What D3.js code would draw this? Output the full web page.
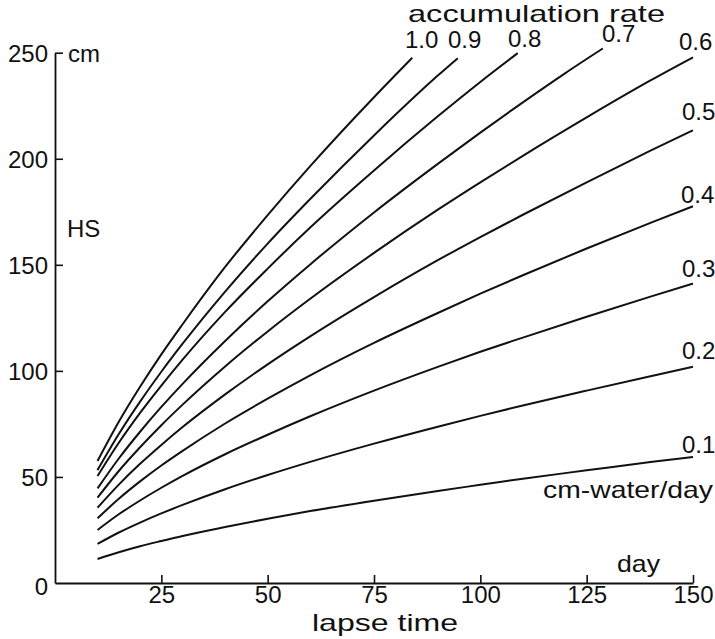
<!DOCTYPE html>
<html><head><meta charset="utf-8">
<script src="https://cdn.jsdelivr.net/npm/d3@7"></script>
<style>body{margin:0;background:#fff}</style>
</head><body>
<svg id="c" width="715" height="639"></svg>
<script>
// Data: lapse time (day) vs HS (cm) per accumulation rate (cm-water/day)
const rates = ["1.0","0.9","0.8","0.7","0.6","0.5","0.4","0.3","0.2","0.1"];
const days  = [10,15,20,25,30,40,50,60,75,90,100,110,125,140,150];
const hs10 = [57.5,76,92.5,107.8,122,149,173.4,196.5,229,247.6];
const hs10Days = [10,15,20,25,30,40,50,60,75,84];
const hs09 = [53.2,70.2,85.5,99.6,112.8,137.4,160,181,211,239.2,247.4];
const hs09Days = [10,15,20,25,30,40,50,60,75,90,94.7];
const hs08 = [50.4,66.1,80.2,93.1,105.3,127.8,148.2,167.6,194.5,220,236.2,249.8];
const hs08Days = [10,15,20,25,30,40,50,60,75,90,100,108.8];
const hs07 = [44.6,58.7,71.3,83,93.9,114.1,132.8,150.2,174.7,197.6,212.3,226.6,240.4,252];
const hs07Days = [10,15,20,25,30,40,50,60,75,90,100,110,120,128.8];
const hs06 = [40.2,52.8,64,74.4,84.1,102.1,118.6,134,155.6,176,188.9,201.4,219.5,236.9,247.8];
const hs05 = [35.5,46.4,56.2,65.1,73.5,88.9,103.1,116.3,134.8,152.2,163.1,173.6,188.9,203.8,213.4];
const hs04 = [30.5,39.7,47.9,55.4,62.3,75.2,86.9,97.9,113.2,127.3,136.4,145.1,157.7,169.8,177.6];
const hs03 = [25,32.4,38.9,44.9,50.5,60.7,69.9,78.6,90.7,101.9,109,115.7,125.5,135,141.2];
const hs02 = [18.4,23.8,28.5,32.8,36.8,44.2,50.9,57.1,65.7,73.7,78.8,83.7,90.7,97.5,101.9];
const hs01 = [11.3,14.5,17.3,19.8,22.2,26.4,30.3,33.9,38.8,43.4,46.3,49.2,53.1,57,59.4];
const xTicks = [25,50,75,100,125,150];
const yTicks = [0,50,100,150,200,250];

const series = [
  {rate:"1.0", x:hs10Days, y:hs10},
  {rate:"0.9", x:hs09Days, y:hs09},
  {rate:"0.8", x:hs08Days, y:hs08},
  {rate:"0.7", x:hs07Days, y:hs07},
  {rate:"0.6", x:days, y:hs06},
  {rate:"0.5", x:days, y:hs05},
  {rate:"0.4", x:days, y:hs04},
  {rate:"0.3", x:days, y:hs03},
  {rate:"0.2", x:days, y:hs02},
  {rate:"0.1", x:days, y:hs01}
];

const svg = d3.select("#c");
const x = d3.scaleLinear().domain([0,150]).range([55,693]);
const y = d3.scaleLinear().domain([0,250]).range([583,52.7]);
const font = "Liberation Sans";
const fs = 24;
const ink = "#111";

// axes
const xAxis = svg.append("g").attr("transform",`translate(0,${y(0)})`)
  .call(d3.axisBottom(x).tickValues(xTicks).tickSizeInner(-8).tickSizeOuter(0).tickFormat(d3.format("d")));
const yAxis = svg.append("g").attr("transform",`translate(${x(0)},0)`)
  .call(d3.axisLeft(y).tickValues(yTicks.filter(d=>d>0)).tickSizeInner(-8).tickSizeOuter(0).tickFormat(""));
[xAxis,yAxis].forEach(g=>{
  g.select(".domain").attr("stroke",ink).attr("stroke-width",1.8);
  g.selectAll(".tick line").attr("stroke",ink).attr("stroke-width",1.6);
});
xAxis.selectAll(".tick text").attr("font-family",font).attr("font-size",fs)
  .attr("fill",ink).attr("y",3).attr("dy","0.71em");

// y tick labels
svg.append("g").selectAll("text").data(yTicks).join("text")
  .attr("x",48).attr("y",d=>y(d)+(d===0?12:9))
  .attr("text-anchor","end").attr("font-family",font).attr("font-size",fs).attr("fill",ink)
  .text(d=>d);

// curves
const line = d3.line().curve(d3.curveMonotoneX);
svg.append("g").selectAll("path").data(series).join("path")
  .attr("d",s=>line(s.x.map((d,i)=>[x(d),y(s.y[i])])))
  .attr("fill","none").attr("stroke",ink).attr("stroke-width",2);

// curve labels
const labelPos = {
  "1.0":[405,48], "0.9":[448,48], "0.8":[508,47], "0.7":[602,42], "0.6":[679,50],
  "0.5":[682,120], "0.4":[681,203], "0.3":[682,277], "0.2":[682,359], "0.1":[682,453]
};
svg.append("g").selectAll("text").data(rates).join("text")
  .attr("x",d=>labelPos[d][0]).attr("y",d=>labelPos[d][1])
  .attr("font-family",font).attr("font-size",fs).attr("fill",ink)
  .text(d=>d);

function txt(t,xp,yp,len){
  const e = svg.append("text").attr("x",xp).attr("y",yp)
    .attr("font-family",font).attr("font-size",fs).attr("fill",ink).text(t);
  if(len) e.attr("textLength",len).attr("lengthAdjust","spacingAndGlyphs");
  return e;
}
txt("accumulation rate",408,22,257);
txt("cm",68,62);
txt("HS",67,237);
txt("cm-water/day",543,498,170);
txt("day",617,572,43);
txt("lapse time",312,631,146);
</script>
</body></html>
